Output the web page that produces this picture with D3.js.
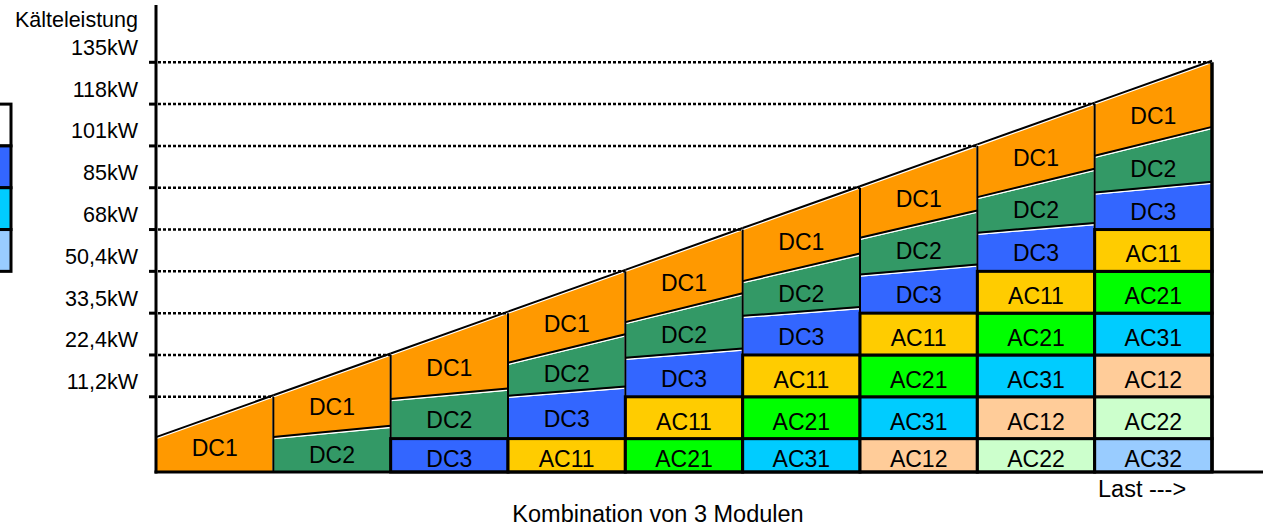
<!DOCTYPE html>
<html><head><meta charset="utf-8">
<script src="https://cdn.jsdelivr.net/npm/d3@7"></script>
<style>
html,body{margin:0;padding:0;background:#fff;overflow:hidden}
svg{display:block}
text{font-family:"Liberation Sans",Arial,Helvetica,sans-serif;fill:#000}
</style>
</head><body>
<svg id="chart" width="1263" height="528"></svg>
<script>
// ---- data ----
const columns = ["1","2","3","4","5","6","7","8","9"];
const yTickLabels = ["11,2kW","22,4kW","33,5kW","50,4kW","68kW","85kW","101kW","118kW","135kW"];
const yTickLevels = [2,3,4,5,6,7,8,9,10];
const stackLabels = [
  ["DC1"],
  ["DC2","DC1"],
  ["DC3","DC2","DC1"],
  ["AC11","DC3","DC2","DC1"],
  ["AC21","AC11","DC3","DC2","DC1"],
  ["AC31","AC21","AC11","DC3","DC2","DC1"],
  ["AC12","AC31","AC21","AC11","DC3","DC2","DC1"],
  ["AC22","AC12","AC31","AC21","AC11","DC3","DC2","DC1"],
  ["AC32","AC22","AC12","AC31","AC21","AC11","DC3","DC2","DC1"]
];
// top of each block (capacity level) at the left and right side of its column
const blockTopLeft = [
  [1],
  [1.0, 2],
  [1, 1.91, 3],
  [1, 1.99, 2.78, 4],
  [1, 2, 2.9, 3.75, 5],
  [1, 2, 3, 3.9, 4.73, 6],
  [1, 2, 3, 4, 4.89, 5.77, 7],
  [1, 2, 3, 4, 5, 5.89, 6.74, 8],
  [1, 2, 3, 4, 5, 6, 6.85, 7.73, 9]
];
const blockTopRight = [
  [2],
  [1.27, 3],
  [1, 2.16, 4],
  [1, 2.21, 3.46, 5],
  [1, 2, 3.12, 4.44, 6],
  [1, 2, 3, 4.11, 5.39, 7],
  [1, 2, 3, 4, 5.13, 6.42, 8],
  [1, 2, 3, 4, 5, 6.12, 7.42, 9],
  [1, 2, 3, 4, 5, 6, 7.11, 8.42, 10]
];
const baseLevel = 0.2;
const moduleNames  = ["DC1","DC2","DC3","AC11","AC21","AC31","AC12","AC22","AC32"];
const moduleColors = ["#FF9900","#339966","#3366FF","#FFCC00","#00FF00","#00CCFF","#FFCC99","#CCFFCC","#99CCFF"];
const legendColors = ["#FFFFFF","#3366FF","#00CCFF","#99CCFF"];
const legendLevels = [9,8,7,6,5];
const yAxisTitle = "Kälteleistung";
const xAxisTitle = "Kombination von 3 Modulen";
const xArrowLabel = "Last --->";

// ---- scales ----
const svg = d3.select("#chart");
const x = d3.scaleBand().domain(columns).range([156, 1212]).paddingInner(0).paddingOuter(0);
const y = d3.scaleLinear().domain([0, 10]).range([480.4, 62.3]);
const color = d3.scaleOrdinal().domain(moduleNames).range(moduleColors);
const bw = x.bandwidth();

// ---- blocks ----
const blocks = [];
columns.forEach((c, i) => {
  let bl = baseLevel, br = baseLevel;
  stackLabels[i].forEach((name, j) => {
    const tl = blockTopLeft[i][j], tr = blockTopRight[i][j];
    blocks.push({col: c, name, bl, br, tl, tr, flat: (tl === tr && bl === br)});
    bl = tl; br = tr;
  });
});

const g = svg.append("g");
// sloped (DC) blocks
const sloped = blocks.filter(b => !b.flat);
g.selectAll("polygon.dc").data(sloped).join("polygon")
  .attr("class","dc")
  .attr("points", b => {
    const x0 = x(b.col), x1 = x(b.col) + bw;
    return [[x0, y(b.bl)], [x1, y(b.br)], [x1, y(b.tr)], [x0, y(b.tl)]].map(p => p.join(",")).join(" ");
  })
  .attr("fill", b => color(b.name))
  .attr("stroke", "#fff").attr("stroke-width", 1.5).attr("stroke-linejoin","miter");

// flat blocks (rectangles)
const flat = blocks.filter(b => b.flat);
g.selectAll("rect.ac").data(flat).join("rect")
  .attr("class","ac")
  .attr("x", b => x(b.col)).attr("width", bw)
  .attr("y", b => y(b.tl)).attr("height", b => y(b.bl) - y(b.tl))
  .attr("fill", b => color(b.name))
  .attr("stroke", "#000").attr("stroke-width", 3);

// black top edges of sloped blocks
g.selectAll("line.top").data(sloped).join("line")
  .attr("x1", b => x(b.col)).attr("x2", b => x(b.col) + bw)
  .attr("y1", b => y(b.tl) - 1.5).attr("y2", b => y(b.tr) - 1.5)
  .attr("stroke", "#000").attr("stroke-width", 2);

// column separators
g.selectAll("line.sep").data(columns.slice(1)).join("line")
  .attr("x1", c => x(c)).attr("x2", c => x(c))
  .attr("y1", y(baseLevel)).attr("y2", (c, i) => y(blockTopRight[i][blockTopRight[i].length - 1]))
  .attr("stroke", "#000").attr("stroke-width", 2);
// right edge of last column
const lastIdx = columns.length - 1;
g.append("line")
  .attr("x1", x(columns[lastIdx]) + bw).attr("x2", x(columns[lastIdx]) + bw)
  .attr("y1", y(baseLevel)).attr("y2", y(blockTopRight[lastIdx][blockTopRight[lastIdx].length - 1]))
  .attr("stroke", "#000").attr("stroke-width", 3.5);

// gridlines (dotted) ending at the sloped top
svg.selectAll("line.grid").data(yTickLevels).join("line")
  .attr("x1", 158).attr("x2", (L) => x(columns[L - 2]) + bw)
  .attr("y1", L => y(L)).attr("y2", L => y(L))
  .attr("stroke", "#000").attr("stroke-width", 2.5).attr("stroke-dasharray", "3,2");

// block labels
g.selectAll("text.lbl").data(blocks).join("text")
  .attr("x", b => x(b.col) + bw / 2)
  .attr("y", b => (y(b.bl) + y(b.br) + y(b.tl) + y(b.tr)) / 4 + (b.flat ? 4 : 3))
  .attr("text-anchor", "middle").attr("dominant-baseline", "central")
  .attr("font-size", 23)
  .text(b => b.name);

// axes
svg.append("line").attr("x1", 156).attr("x2", 156).attr("y1", 5).attr("y2", y(baseLevel) + 1.5)
  .attr("stroke", "#000").attr("stroke-width", 3);
svg.append("line").attr("x1", 154.5).attr("x2", 1263).attr("y1", y(baseLevel)).attr("y2", y(baseLevel))
  .attr("stroke", "#000").attr("stroke-width", 3);
svg.selectAll("line.tick").data(yTickLevels).join("line")
  .attr("x1", 149).attr("x2", 157).attr("y1", L => y(L)).attr("y2", L => y(L))
  .attr("stroke", "#000").attr("stroke-width", 3);
svg.selectAll("text.ytick").data(yTickLevels).join("text")
  .attr("x", 138).attr("y", L => y(L) - 7.5)
  .attr("text-anchor", "end").attr("font-size", 21.5)
  .text((L, i) => yTickLabels[i]);
svg.append("text").attr("x", 138).attr("y", 27).attr("text-anchor", "end")
  .attr("font-size", 21.5).text(yAxisTitle);
svg.append("text").attr("x", 1098).attr("y", 497).attr("font-size", 23.5).text(xArrowLabel);
svg.append("text").attr("x", 658).attr("y", 522).attr("text-anchor", "middle")
  .attr("font-size", 23.5).text(xAxisTitle);

// legend (partly outside the view on the left)
svg.selectAll("rect.leg").data(legendColors).join("rect")
  .attr("x", -4).attr("width", 15)
  .attr("y", (d, i) => y(legendLevels[i])).attr("height", (d, i) => y(legendLevels[i + 1]) - y(legendLevels[i]))
  .attr("fill", d => d).attr("stroke", "#000").attr("stroke-width", 3);
</script>
</body></html>
